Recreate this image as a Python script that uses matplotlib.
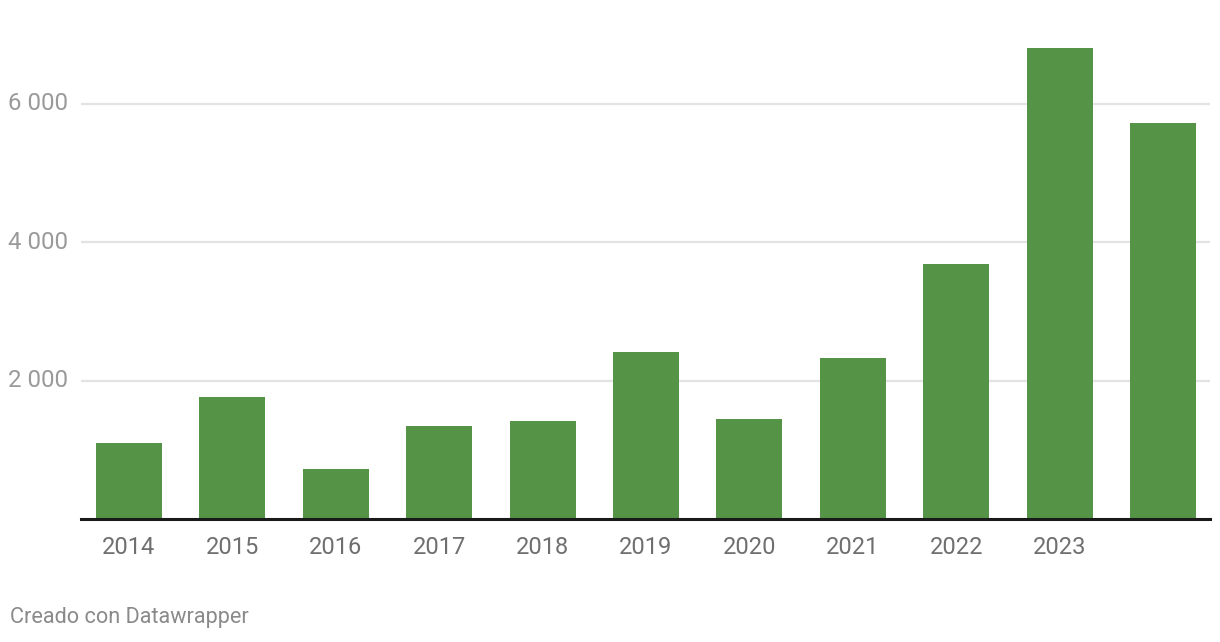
import matplotlib
matplotlib.use("Agg")
import matplotlib.pyplot as plt

years = ["2014", "2015", "2016", "2017", "2018", "2019", "2020", "2021", "2022", "2023", ""]
values = [1098, 1762, 722, 1343, 1415, 2411, 1444, 2325, 3682, 6804, 5721]
yticks = [2000, 4000, 6000]
ytick_labels = ["2 000", "4 000", "6 000"]

plt.rcParams['font.family'] = ['Roboto', 'DejaVu Sans']

W, H = 1220, 642
fig = plt.figure(figsize=(W / 100, H / 100), dpi=100)
ax_left, ax_right, ax_top, ax_bottom = 81, 1210, 40, 519
ax = fig.add_axes([ax_left / W, 1 - ax_bottom / H, (ax_right - ax_left) / W, (ax_bottom - ax_top) / H])

x = list(range(len(years)))
ax.bar(x, values, width=0.638, color="#559346", zorder=3)

ax.set_xlim(-0.464, 10.455)
ax.set_ylim(0, 6920)

ax.set_yticks(yticks)
ax.set_yticklabels(ytick_labels)
ax.set_xticks(x)
ax.set_xticklabels(years)

ax.tick_params(axis='y', length=0, pad=9.0, labelsize=17.3, labelcolor="#9a9a9a")
ax.tick_params(axis='x', length=0, pad=12.5, labelsize=17, labelcolor="#6f6f6f")
for lbl in ax.get_yticklabels():
    lbl.set_verticalalignment('center')

ax.grid(axis='y', color="#e3e3e3", linewidth=1.6, zorder=0)
for s in ['top', 'right', 'left']:
    ax.spines[s].set_visible(False)
ax.spines['bottom'].set_color("#1a1a1a")
ax.spines['bottom'].set_linewidth(2.2)
ax.spines['bottom'].set_zorder(4)

fig.text(10 / W, 1 - 618 / H, "Creado con Datawrapper", fontsize=15.6, color="#8a8a8a",
         ha='left', va='center')

fig.savefig("out.png", dpi=100, facecolor="white")
